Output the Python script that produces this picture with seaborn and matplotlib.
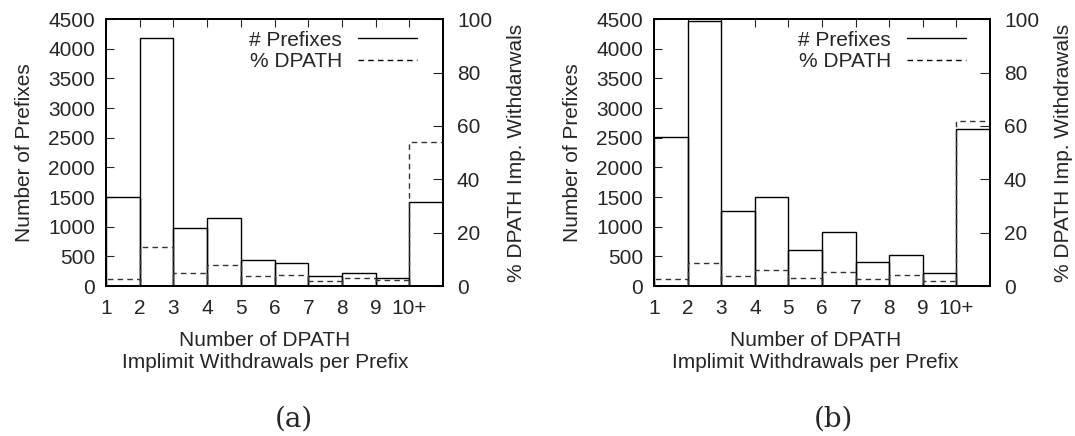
import numpy as np
import pandas as pd
import seaborn as sns
import matplotlib.pyplot as plt
from matplotlib.lines import Line2D

# bins on the x axis
bin_labels = ["1", "2", "3", "4", "5", "6", "7", "8", "9", "10+"]
bin_pos = np.arange(1, 11)

# panel (a)
prefixes_a = [1500, 4190, 980, 1150, 435, 390, 170, 215, 130, 1415]
dpath_a = [2.5, 14.6, 5.0, 8.0, 3.7, 4.0, 2.0, 3.0, 2.1, 54.0]

# panel (b)
prefixes_b = [2520, 4470, 1270, 1500, 600, 905, 405, 515, 215, 2655]
dpath_b = [2.5, 8.7, 3.6, 5.9, 2.9, 5.2, 2.8, 4.0, 1.9, 62.0]

sns.set_style("ticks")
plt.rcParams["font.family"] = ["Liberation Sans", "DejaVu Sans"]
plt.rcParams["font.size"] = 15

fig = plt.figure(figsize=(10.75, 4.36), dpi=100)

dash = (0, (4, 3))
FS = 15


def draw_panel(rect, prefixes, dpath, right_label, caption, cap_x,
               xlab_x, leg_x):
    df = pd.DataFrame({"pos": bin_pos + 0.5, "prefixes": prefixes,
                       "dpath": dpath})
    ax = fig.add_axes(rect)
    sns.histplot(data=df, x="pos", weights="prefixes", binwidth=1,
                 binrange=(1, 11), fill=False, color="black",
                 linewidth=1.0, ax=ax)
    ax.set_xlim(1, 11)
    ax.set_ylim(0, 4500)
    ax.set_xticks(bin_pos)
    ax.set_xticklabels(bin_labels)
    ax.set_yticks(np.arange(0, 4501, 500))
    ax.tick_params(axis="x", direction="in", top=True, length=6, pad=9,
                   labelsize=FS)
    ax.tick_params(axis="y", direction="in", length=6, pad=8, labelsize=FS)
    ax.set_xlabel("Number of DPATH\nImplimit Withdrawals per Prefix",
                  fontsize=FS, linespacing=1.15)
    ax.xaxis.set_label_coords(xlab_x, -0.17, transform=ax.transAxes)
    ax.xaxis.label.set_va("top")
    ax.set_ylabel("Number of Prefixes", fontsize=FS)
    ax.yaxis.set_label_coords(-0.215, 0.5, transform=ax.transAxes)
    for s in ax.spines.values():
        s.set_linewidth(1.3)
        s.set_color("black")

    ax2 = ax.twinx()
    sns.histplot(data=df, x="pos", weights="dpath", binwidth=1,
                 binrange=(1, 11), fill=False, color="#333333",
                 linewidth=1.0, linestyle=dash, ax=ax2)
    ax2.set_ylim(0, 100)
    ax2.set_yticks(np.arange(0, 101, 20))
    ax2.tick_params(axis="y", direction="in", length=7, pad=10, labelsize=FS)
    ax2.set_ylabel(right_label, fontsize=FS)
    ax2.yaxis.set_label_coords(1.19, 0.5, transform=ax2.transAxes)
    for s in ax2.spines.values():
        s.set_linewidth(1.3)
        s.set_color("black")

    handles = [Line2D([], [], color="black", lw=1.0),
               Line2D([], [], color="black", lw=1.0, linestyle=dash)]
    ax.legend(handles, ["# Prefixes", "% DPATH"], loc="upper right",
              frameon=False, markerfirst=False, handlelength=2.85,
              handletextpad=0.75, fontsize=FS, borderaxespad=0,
              borderpad=0, labelspacing=0.12,
              bbox_to_anchor=(leg_x, 0.957))

    fig.text(cap_x, 0.039, caption, ha="center", va="center",
             fontsize=20, family=["DejaVu Serif"])


draw_panel([0.0986, 0.344, 0.3135, 0.612], prefixes_a, dpath_a,
           "% DPATH Imp. Withdarwals", "(a)", 0.273, 0.472, 0.923)
draw_panel([0.6084, 0.344, 0.3126, 0.612], prefixes_b, dpath_b,
           "% DPATH Imp. Withdrawals", "(b)", 0.775, 0.48, 0.928)

plt.savefig("out.png", dpi=100)
